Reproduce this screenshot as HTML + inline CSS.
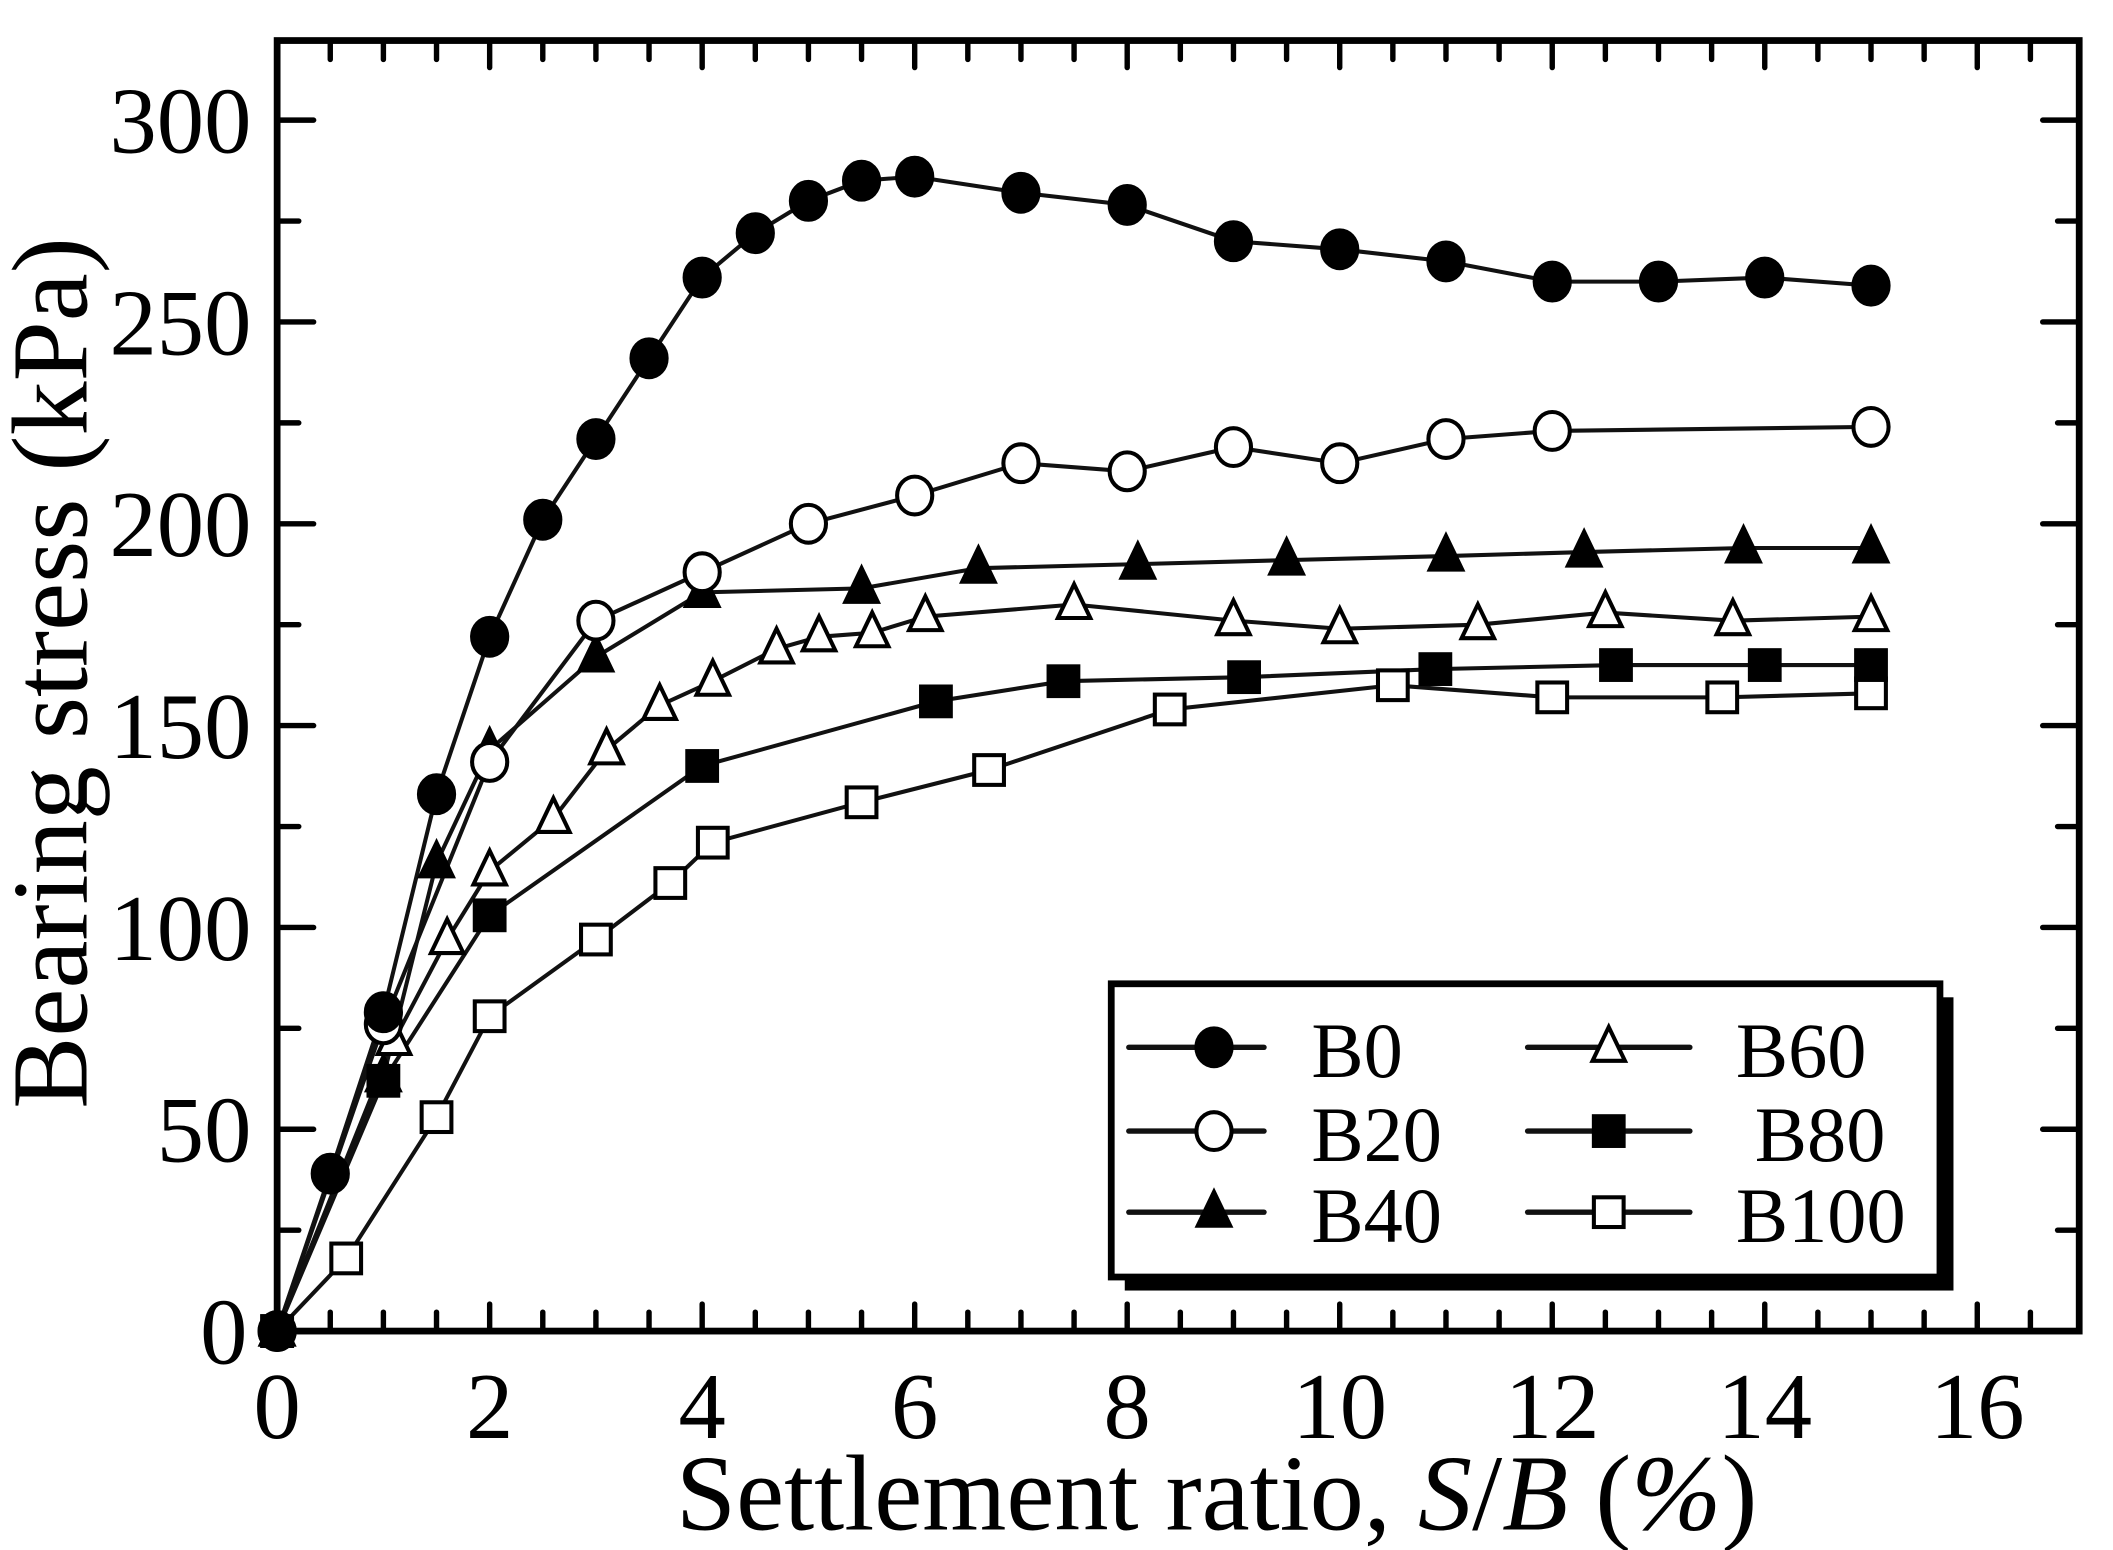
<!DOCTYPE html>
<html><head><meta charset="utf-8"><style>html,body{margin:0;padding:0;background:#fff}svg{display:block}</style></head>
<body>
<svg width="2113" height="1550" viewBox="0 0 1563 1147" preserveAspectRatio="none" xmlns="http://www.w3.org/2000/svg" font-family="'Liberation Serif', serif">
<rect width="1563" height="1147" fill="#fff"/>
<g id="ticks" stroke="#000" stroke-width="4" stroke-linecap="round"></g>
<rect x="205" y="30" width="1333" height="955" fill="none" stroke="#000" stroke-width="5"/>
<g id="labels" font-size="70" fill="#000"></g>
<g id="series"></g>
<rect x="832" y="738" width="613" height="217" fill="#000"/>
<rect x="822" y="728" width="613" height="217" fill="#fff" stroke="#000" stroke-width="5"/>
<g id="legend" font-size="58"></g>
<text x="900" y="1132" font-size="80" text-anchor="middle" textLength="800" lengthAdjust="spacingAndGlyphs">Settlement ratio, <tspan font-style="italic">S</tspan>/<tspan font-style="italic">B</tspan> (<tspan font-style="italic">%</tspan>)</text>
<text transform="translate(64,498) rotate(-90)" font-size="80" text-anchor="middle" textLength="645" lengthAdjust="spacingAndGlyphs">Bearing stress (kPa)</text>
<script>
const X=v=>205+v*78.6, Y=v=>985-v*2.987;
const NS="http://www.w3.org/2000/svg";
function el(p,t,a,txt){const e=document.createElementNS(NS,t);for(const k in a)e.setAttribute(k,a[k]);if(txt!=null)e.textContent=txt;p.appendChild(e);return e;}
const tk=document.getElementById('ticks'),lb=document.getElementById('labels');
for(let i=0;i<=34;i++){const v=i*0.5,x=X(v);if(x>1536)break;const L=(i%4==0)?20:14;
 el(tk,'line',{x1:x,y1:985,x2:x,y2:985-L});el(tk,'line',{x1:x,y1:30,x2:x,y2:30+L});
 if(i%4==0)el(lb,'text',{x:x,y:1064,'text-anchor':'middle'},String(v));}
for(let v=0;v<=320;v+=25){const y=Y(v),L=(v%50==0)?27:16;
 el(tk,'line',{x1:205,y1:y,x2:205+L,y2:y});el(tk,'line',{x1:1538,y1:y,x2:1538-L,y2:y});
 if(v%50==0)el(lb,'text',{x:v==0?183:186,y:y+24,'text-anchor':'end'},String(v));}
const S={
B0:[[0,0],[0.5,39],[1,79],[1.5,133],[2,172],[2.5,201],[3,221],[3.5,241],[4,261],[4.5,272],[5,280],[5.5,285],[6,286],[7,282],[8,279],[9,270],[10,268],[11,265],[12,260],[13,260],[14,261],[15,259]],
B20:[[0,0],[1,76],[2,141],[3,176],[4,188],[5,200],[6,207],[7,215],[8,213],[9,219],[10,215],[11,221],[12,223],[15,224]],
B40:[[0,0],[1,63],[1.5,116],[2,144],[3,167],[4,183],[5.5,184],[6.6,189],[8.1,190],[9.5,191],[11,192],[12.3,193],[13.8,194],[15,194]],
B60:[[0,0],[1.1,72],[1.6,97],[2,114],[2.6,127],[3.1,144],[3.6,155],[4.1,161],[4.7,169],[5.1,172],[5.6,173],[6.1,177],[7.5,180],[9,176],[10,174],[11.3,175],[12.5,178],[13.7,176],[15,177]],
B80:[[0,0],[1,62],[2,103],[4,140],[6.2,156],[7.4,161],[9.1,162],[10.9,164],[12.6,165],[14,165],[15,165]],
B100:[[0,0],[0.65,18],[1.5,53],[2,78],[3,97],[3.7,111],[4.1,121],[5.5,131],[6.7,139],[8.4,154],[10.5,160],[12,157],[13.6,157],[15,158]]};
const M={B0:['c',1],B20:['c',0],B40:['t',1],B60:['t',0],B80:['s',1],B100:['s',0]};
function mk(p,type,fill,x,y){const a={fill:fill?'#000':'#fff',stroke:'#000','stroke-width':3};
 if(type=='c'){a.cx=x;a.cy=y;a.rx=13;a.ry=14;el(p,'ellipse',a);}
 else if(type=='s'){a.x=x-11;a.y=y-11;a.width=22;a.height=22;el(p,'rect',a);}
 else {a.points=`${x},${y-15} ${x-12},${y+10} ${x+12},${y+10}`;el(p,'polygon',a);}}
const sg=document.getElementById('series');
for(const k of ['B100','B80','B60','B40','B20','B0']){
 el(sg,'polyline',{points:S[k].map(p=>X(p[0])+','+Y(p[1])).join(' '),fill:'none',stroke:'#111','stroke-width':3});}
for(const k of ['B100','B80','B60','B40','B20','B0'])for(const p of S[k])mk(sg,M[k][0],M[k][1],X(p[0]),Y(p[1]));
const lg=document.getElementById('legend');
const rows=[775,837,897];
[['B0','B20','B40'],['B60','B80','B100']].forEach((col,ci)=>{col.forEach((k,ri)=>{const y=rows[ri];
 const x1=ci?1130:835,x2=ci?1250:935,xm=ci?1190:898;
 el(lg,'line',{x1:x1,y1:y,x2:x2,y2:y,stroke:'#111','stroke-width':4,'stroke-linecap':'round'});
 mk(lg,M[k][0],M[k][1],xm,y);
 el(lg,'text',{x:ci?(k=='B80'?1298:1284):970,y:y+22},k);});});
</script>
</svg>
</body></html>
